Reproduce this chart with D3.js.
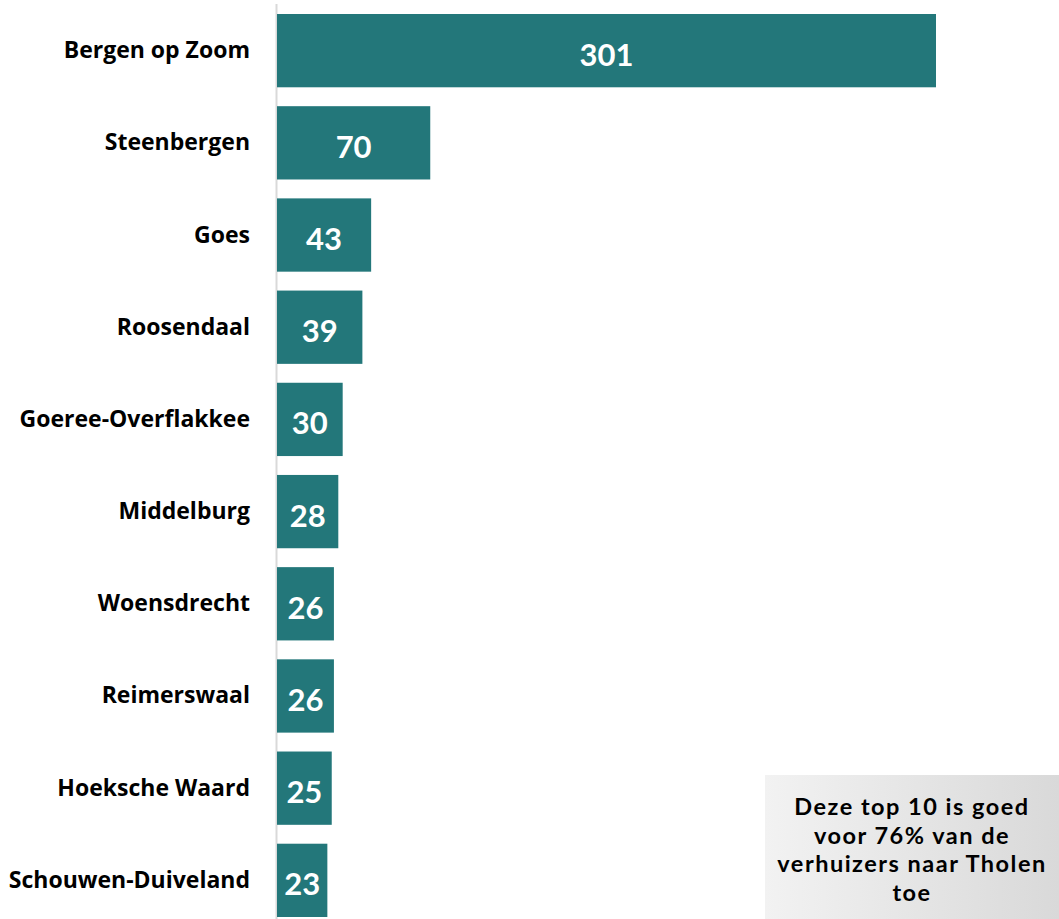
<!DOCTYPE html>
<html><head><meta charset="utf-8">
<script src="https://cdn.jsdelivr.net/npm/d3@7"></script>
<style>body{margin:0;background:#fff;} svg{display:block;}</style>
</head><body>
<svg id="c" width="1059" height="919"></svg>
<script>
const categories = ["Bergen op Zoom","Steenbergen","Goes","Roosendaal","Goeree-Overflakkee","Middelburg","Woensdrecht","Reimerswaal","Hoeksche Waard","Schouwen-Duiveland"];
const values = [301,70,43,39,30,28,26,26,25,23];
const noteLines = ["Deze top 10 is goed","voor 76% van de","verhuizers naar Tholen","toe"];

const svg = d3.select("#c");
const font = "'Open Sans', Lato, sans-serif";
const numFont = "Lato, 'Open Sans', sans-serif";
const x = d3.scaleLinear().domain([0,301]).range([277,936]);
const y = d3.scaleBand().domain(categories).range([14,917]).paddingInner(0.205).paddingOuter(0);

svg.append("line").attr("x1",276.5).attr("x2",276.5).attr("y1",4).attr("y2",919)
  .attr("stroke","#d9d9d9").attr("stroke-width",2);

svg.selectAll("rect.bar").data(values).join("rect").attr("class","bar")
  .attr("x",x(0)).attr("y",(d,i)=>y(categories[i])).attr("width",d=>x(d)-x(0))
  .attr("height",y.bandwidth()).attr("fill","#23777a");

svg.selectAll("text.val").data(values).join("text").attr("class","val")
  .attr("x",d=>(x(d)+x(0))/2).attr("y",(d,i)=>y(categories[i])+y.bandwidth()/2+15)
  .attr("text-anchor","middle").attr("fill","#fff").attr("font-family",numFont)
  .attr("font-weight","bold").attr("font-size",31).text(d=>d);

svg.selectAll("text.cat").data(categories).join("text").attr("class","cat")
  .attr("x",250).attr("y",d=>y(d)+y.bandwidth()/2+7.5)
  .attr("text-anchor","end").attr("fill","#000").attr("font-family",font)
  .attr("font-weight","bold").attr("font-size",23).text(d=>d);

const defs = svg.append("defs");
const g = defs.append("linearGradient").attr("id","gr").attr("x1","0").attr("x2","1").attr("y1","0").attr("y2","0");
g.append("stop").attr("offset","0").attr("stop-color","#f2f2f2");
g.append("stop").attr("offset","1").attr("stop-color","#d9d9d9");
svg.append("rect").attr("x",765).attr("y",775).attr("width",294).attr("height",144).attr("fill","url(#gr)");
svg.selectAll("text.note").data(noteLines).join("text").attr("class","note")
  .attr("x",912).attr("y",(d,i)=>815+i*28.6).attr("text-anchor","middle")
  .attr("font-family",numFont).attr("font-weight","bold").attr("font-size",23.5)
  .attr("letter-spacing",1.5).attr("fill","#000").text(d=>d);
</script>
</body></html>
